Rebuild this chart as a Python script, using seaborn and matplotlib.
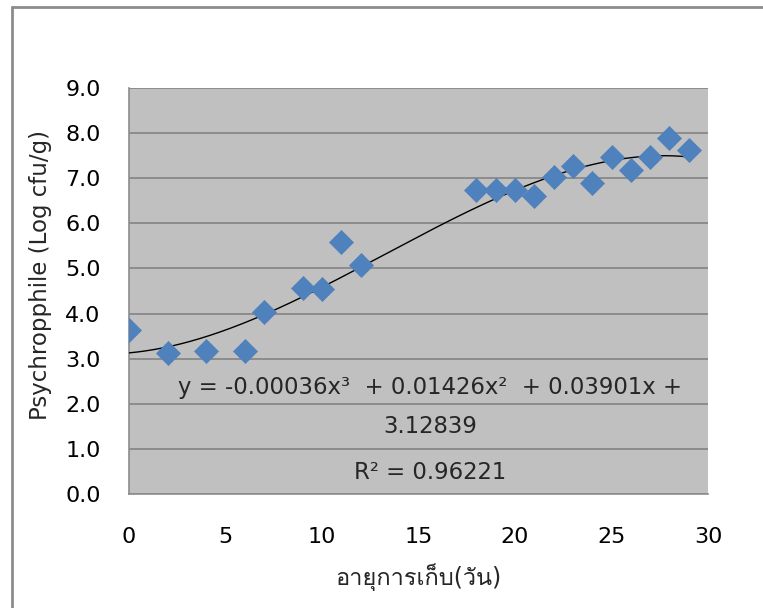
import numpy as np
import pandas as pd
import matplotlib
matplotlib.use("Agg")
import matplotlib.pyplot as plt
import seaborn as sns
from matplotlib.lines import Line2D
from matplotlib import font_manager
from matplotlib.ft2font import FT2Font

# ---- data ----
days = [0, 2, 4, 6, 7, 9, 10, 11, 12, 18, 19, 20, 21, 22, 23, 24, 25, 26, 27, 28, 29]
log_cfu = [3.64, 3.13, 3.17, 3.17, 4.04, 4.57, 4.55, 5.59, 5.08, 6.73, 6.73, 6.73, 6.61,
           7.03, 7.26, 6.90, 7.46, 7.18, 7.46, 7.90, 7.63]
trend_coef = [-0.00036, 0.01426, 0.03901, 3.12839]   # cubic, highest power first
x_ticks = [0, 5, 10, 15, 20, 25, 30]
y_ticks = [0.0, 1.0, 2.0, 3.0, 4.0, 5.0, 6.0, 7.0, 8.0, 9.0]
eq_line1 = "y = -0.00036x³  + 0.01426x²  + 0.03901x +"
eq_line2 = "3.12839"
eq_line3 = "R² = 0.96221"
x_label = "อายุการเก็บ(วัน)"
y_label = "Psychropphile (Log cfu/g)"


def find_thai_family():
    seen = set()
    for f in font_manager.fontManager.ttflist:
        if f.fname in seen:
            continue
        seen.add(f.fname)
        try:
            cmap = FT2Font(f.fname).get_charmap()
        except Exception:
            continue
        if 0x0E01 in cmap and 0x0E32 in cmap:
            return f.name
    return None


sns.set_theme(style="white")
families = ['DejaVu Sans']
thai = find_thai_family()
if thai:
    families.append(thai)
plt.rcParams['font.family'] = families

FS = 16

fig = plt.figure(figsize=(7.63, 6.08), dpi=100)
ax = fig.add_axes([129/763, 1-494/608, (708-129)/763, (494-88)/608])
ax.set_facecolor("#C0C0C0")

df = pd.DataFrame({"day": days, "cfu": log_cfu})
xs = np.linspace(min(days), max(days), 300)
trend = pd.DataFrame({"day": xs, "fit": np.polyval(trend_coef, xs)})

sns.lineplot(data=trend, x="day", y="fit", ax=ax, color="black", linewidth=1.0, zorder=3)
sns.scatterplot(data=df, x="day", y="cfu", ax=ax, marker="D", s=150,
                color="#4F81BD", edgecolor="#4F81BD", linewidth=0.5, zorder=4)

ax.set_xlim(0, 30)
ax.set_ylim(0, 9)
ax.set_xticks(x_ticks)
ax.set_xticklabels([str(t) for t in x_ticks])
ax.set_yticks(y_ticks)
ax.set_yticklabels([f"{t:.1f}" for t in y_ticks])
ax.yaxis.grid(True, color="#8C8C8C", linewidth=1.4)
ax.set_axisbelow(True)

for s in ["top", "right"]:
    ax.spines[s].set_visible(False)
for s in ["left", "bottom"]:
    ax.spines[s].set_color("#8C8C8C")
    ax.spines[s].set_linewidth(1.2)

ax.tick_params(axis="both", which="both", length=7.5, width=1.0, color="#8C8C8C",
               labelsize=FS, labelcolor="black")
ax.tick_params(axis="y", pad=13)
ax.tick_params(axis="x", pad=16)
ax.set_xlabel(x_label, fontsize=17, labelpad=12)
ax.set_ylabel(y_label, fontsize=16.5)
ax.yaxis.set_label_coords(-0.133, 0.54)

ax.text(15.6, 2.37, eq_line1, ha="center", va="center", fontsize=FS + 0.4)
ax.text(15.6, 1.49, eq_line2, ha="center", va="center", fontsize=FS + 0.4)
ax.text(15.6, 0.47, eq_line3, ha="center", va="center", fontsize=FS + 0.4)

# outer chart border (top and left visible)
fig.add_artist(Line2D([12/763, 1.0], [1-7/608, 1-7/608], transform=fig.transFigure,
                      color="#8C8C8C", linewidth=2))
fig.add_artist(Line2D([12/763, 12/763], [0.0, 1-7/608], transform=fig.transFigure,
                      color="#8C8C8C", linewidth=2))

fig.savefig("out.png", dpi=100)
